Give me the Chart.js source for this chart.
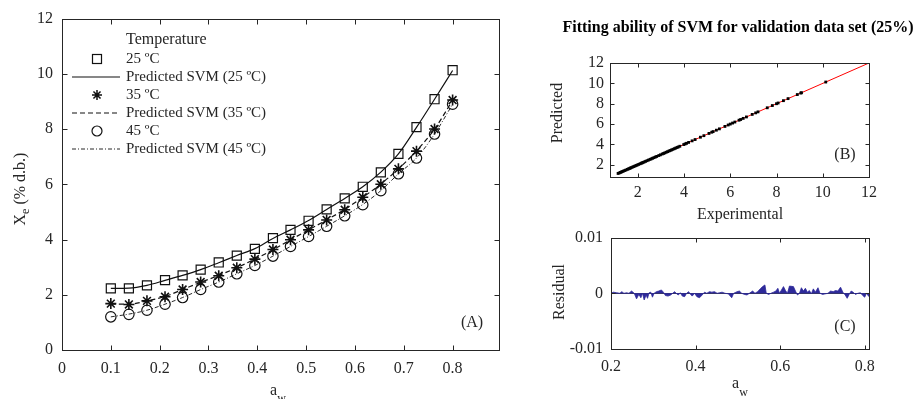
<!DOCTYPE html>
<html><head><meta charset="utf-8">
<script src="https://cdn.jsdelivr.net/npm/chart.js@4.4.0/dist/chart.umd.min.js"></script>
<style>
html,body{margin:0;padding:0;background:#fff;width:921px;height:399px;overflow:hidden;position:relative}
canvas{position:absolute}
</style></head><body>
<canvas id="ca" width="515" height="399" style="left:0;top:0"></canvas>
<canvas id="cb" width="421" height="232" style="left:500px;top:0"></canvas>
<canvas id="cc" width="421" height="179" style="left:500px;top:220px"></canvas>
<script>
// ---------- DATA ----------
// Panel A: equilibrium moisture content vs water activity
const aw = [0.100,0.137,0.174,0.211,0.247,0.284,0.321,0.358,0.395,0.432,0.468,0.505,0.542,0.579,0.616,0.653,0.689,0.726,0.763,0.800];
const exp25 = [2.23,2.23,2.34,2.53,2.70,2.91,3.17,3.42,3.66,4.05,4.35,4.68,5.09,5.49,5.91,6.43,7.10,8.07,9.08,10.13];
const exp35 = [1.68,1.65,1.78,1.93,2.19,2.46,2.69,2.98,3.29,3.64,3.99,4.35,4.71,5.08,5.53,6.00,6.56,7.20,8.00,9.05];
const exp45 = [1.20,1.29,1.44,1.66,1.90,2.19,2.46,2.76,3.06,3.40,3.75,4.11,4.48,4.86,5.26,5.77,6.38,6.95,7.82,8.90];
const pred25 = [2.23,2.24,2.34,2.52,2.70,2.91,3.16,3.42,3.67,4.04,4.35,4.69,5.09,5.49,5.91,6.44,7.10,8.06,9.08,10.12];
const pred35 = [1.66,1.66,1.78,1.94,2.19,2.45,2.70,2.98,3.29,3.63,3.99,4.35,4.71,5.09,5.53,6.01,6.56,7.21,8.00,9.04];
const pred45 = [1.20,1.30,1.44,1.66,1.90,2.19,2.46,2.76,3.06,3.40,3.75,4.11,4.48,4.86,5.27,5.77,6.38,6.95,7.82,8.90];
const xTicksA = [0,0.1,0.2,0.3,0.4,0.5,0.6,0.7,0.8];
const yTicksA = [0,2,4,6,8,10,12];
const legendLabels = ['25 ºC','Predicted SVM (25 ºC)','35 ºC','Predicted SVM (35 ºC)','45 ºC','Predicted SVM (45 ºC)'];

// Panel B: validation set, experimental vs predicted
const valExp = [1.15,1.20,1.25,1.29,1.33,1.38,1.44,1.49,1.55,1.60,1.65,1.68,1.72,1.78,1.83,1.88,1.93,1.98,2.04,2.10,2.15,2.19,2.23,2.28,2.34,2.40,2.46,2.53,2.58,2.64,2.70,2.76,2.82,2.91,2.98,3.06,3.12,3.17,3.23,3.29,3.35,3.40,3.46,3.52,3.58,3.64,3.70,3.75,3.82,3.99,4.05,4.11,4.20,4.35,4.48,4.71,4.86,5.08,5.20,5.26,5.40,5.53,5.77,5.91,6.00,6.10,6.20,6.38,6.45,6.56,6.70,6.95,7.10,7.20,7.60,7.82,8.00,8.07,8.30,8.50,8.90,9.05,9.08,10.13];
const valPred = valExp;
const fitX = [1.1, 12];
const fitY = [1.1, 12];
const ticksB = [2,4,6,8,10,12];

// Panel C: residuals vs water activity
const resX = [0.200,0.2055,0.2133,0.2212,0.2251,0.2306,0.2369,0.2424,0.2486,0.2549,0.2604,0.2659,0.2706,0.2745,0.2784,0.2831,0.2863,0.2902,0.2941,0.2980,0.3019,0.3074,0.3129,0.3192,0.3239,0.3286,0.3349,0.3411,0.3458,0.3505,0.3552,0.3592,0.3639,0.3686,0.3741,0.3788,0.3835,0.3882,0.3921,0.3976,0.4031,0.4093,0.4156,0.4211,0.4266,0.4329,0.4384,0.4446,0.4509,0.4564,0.4627,0.4697,0.4775,0.4854,0.4901,0.4956,0.4981,0.5036,0.5090,0.5153,0.5216,0.5271,0.5349,0.5404,0.5467,0.5529,0.5584,0.5639,0.5671,0.5726,0.5780,0.5843,0.5898,0.5945,0.5984,0.6031,0.6078,0.6125,0.6172,0.6219,0.6314,0.6361,0.6408,0.6455,0.6502,0.6549,0.6596,0.6643,0.6690,0.6737,0.6784,0.6831,0.6894,0.6941,0.7004,0.7066,0.7129,0.7192,0.7254,0.7309,0.7364,0.7427,0.7482,0.7537,0.7584,0.7631,0.7678,0.7725,0.7780,0.7835,0.7898,0.7952,0.7999,0.8038,0.810];
const resY = [0,0.0002,0.0001,0,0.0003,0,0.0001,0,0.0004,0,-0.0010,-0.0002,-0.0008,0,-0.0012,-0.0003,-0.0009,0.0001,0.0002,-0.0007,0,0.0003,0.0004,0.0006,0.0002,-0.0004,-0.0005,-0.0003,0,0.0003,-0.0001,-0.0003,0.0001,-0.0005,-0.0006,0,0.0003,-0.0002,-0.0005,0,-0.0006,-0.0008,-0.0003,0.0002,0,0.0003,0.0002,0.0003,0,0.0001,0.0002,0,-0.0001,-0.0008,0,0.0002,0.0003,0.0004,0,-0.0002,-0.0003,0,0.0004,0,0.0003,0.0008,0.0012,0.0015,0,-0.0002,0,0.0002,0.0004,0.0009,0,0.0006,0.0012,0.0005,0,0.0013,0.0012,0.0004,-0.0003,0,0.0010,0.0004,0.0009,0.0002,0.0005,-0.0001,0.0008,0.0002,0.0010,0,-0.0002,-0.0001,0,0.0004,0.0003,0.0005,0.0004,0.0011,0.0002,-0.0003,-0.0009,-0.0002,0.0004,0.0002,-0.0002,0,0.0001,-0.0004,-0.0007,0,-0.0006];
const xTicksC = [0.2,0.4,0.6,0.8];
const yTicksC = [-0.01,0,0.01];

// ---------- STYLE ----------
const SERIF = '"Liberation Serif","Times New Roman",serif';
const TXT = '#262626';
const AX = '#262626';
const xy = (xs, ys) => xs.map((x, i) => ({x, y: ys[i]}));

const boxPlugin = {
  id: 'mbox',
  afterDatasetsDraw(chart, args, opts) {
    const {ctx, chartArea: a, scales} = chart;
    const L = opts.len || 5;
    ctx.save();
    ctx.strokeStyle = AX; ctx.lineWidth = 1;
    const l = Math.round(a.left) + 0.5, t = Math.round(a.top) + 0.5, r = Math.round(a.right) + 0.5, b = Math.round(a.bottom) + 0.5;
    ctx.strokeRect(l, t, r - l, b - t);
    ctx.beginPath();
    scales.x.ticks.forEach(tk => {
      const p = Math.round(scales.x.getPixelForValue(tk.value)) + 0.5;
      if (p <= l + 1 || p >= r - 1) return;
      ctx.moveTo(p, b); ctx.lineTo(p, b - L);
      ctx.moveTo(p, t); ctx.lineTo(p, t + L);
    });
    scales.y.ticks.forEach(tk => {
      const p = Math.round(scales.y.getPixelForValue(tk.value)) + 0.5;
      if (p <= t + 1 || p >= b - 1) return;
      ctx.moveTo(l, p); ctx.lineTo(l + L, p);
      ctx.moveTo(r, p); ctx.lineTo(r - L, p);
    });
    ctx.stroke();
    ctx.restore();
  }
};

function textAt(ctx, s, x, y, size, opt = {}) {
  ctx.save();
  ctx.translate(x, y);
  if (opt.rot) ctx.rotate(opt.rot);
  ctx.font = (opt.bold ? 'bold ' : '') + size + 'px ' + SERIF;
  ctx.fillStyle = opt.color || TXT;
  ctx.textAlign = opt.align || 'center';
  ctx.textBaseline = 'middle';
  ctx.fillText(s, 0, 0);
  ctx.restore();
}
function partsAt(ctx, parts, x, y, rot) {
  ctx.save();
  ctx.translate(x, y);
  if (rot) ctx.rotate(rot);
  let w = 0;
  parts.forEach(p => { ctx.font = p.size + 'px ' + SERIF; p.w = ctx.measureText(p.t).width; w += p.w; });
  let cx = -w / 2;
  ctx.fillStyle = TXT; ctx.textAlign = 'left'; ctx.textBaseline = 'alphabetic';
  parts.forEach(p => { ctx.font = p.size + 'px ' + SERIF; ctx.fillText(p.t, cx, p.dy); cx += p.w; });
  ctx.restore();
}

function axisOpts(min, max, ticks, fmt, size, pad, fitProp, fitVal) {
  return {
    type: 'linear', min, max,
    afterBuildTicks: s => { s.ticks = ticks.map(v => ({value: v})); },
    afterFit: s => { s[fitProp] = fitVal; },
    grid: {display: false, drawTicks: false},
    border: {display: false},
    ticks: {color: TXT, font: {family: SERIF, size}, padding: pad, callback: fmt, autoSkip: false, maxRotation: 0}
  };
}
const baseOpts = {
  responsive: false, animation: false, events: [],
  plugins: {legend: {display: false}, tooltip: {enabled: false}}
};

// ---------- PANEL A ----------
const legendPlugin = {
  id: 'legA',
  afterDraw(chart) {
    const ctx = chart.ctx;
    ctx.save();
    textAt(ctx, 'Temperature', 126, 40, 16, {align: 'left'});
    const rows = [59, 77, 95, 113, 131, 149];
    const mx = 97, x0 = 72, x1 = 120;
    ctx.strokeStyle = '#111'; ctx.lineWidth = 1.2;
    ctx.strokeRect(mx - 4.5, rows[0] - 4.5, 9, 9);
    ctx.beginPath(); ctx.moveTo(x0, rows[1]); ctx.lineTo(x1, rows[1]); ctx.stroke();
    ctx.beginPath(); ctx.lineWidth = 1.5;
    for (let k = 0; k < 4; k++) { const ang = k * Math.PI / 4; const r = 5;
      ctx.moveTo(mx - r * Math.cos(ang), rows[2] - r * Math.sin(ang)); ctx.lineTo(mx + r * Math.cos(ang), rows[2] + r * Math.sin(ang)); }
    ctx.stroke();
    ctx.lineWidth = 1.2; ctx.setLineDash([5, 3]);
    ctx.beginPath(); ctx.moveTo(x0, rows[3]); ctx.lineTo(x1, rows[3]); ctx.stroke();
    ctx.setLineDash([]);
    ctx.beginPath(); ctx.arc(mx, rows[4], 5, 0, Math.PI * 2); ctx.stroke();
    ctx.lineWidth = 0.9; ctx.setLineDash([4, 2, 1, 2]);
    ctx.beginPath(); ctx.moveTo(x0, rows[5]); ctx.lineTo(x1, rows[5]); ctx.stroke();
    ctx.setLineDash([]);
    legendLabels.forEach((s, i) => textAt(ctx, s, 126, rows[i], 15, {align: 'left'}));
    partsAt(ctx, [{t: 'X', size: 16, dy: 0}, {t: 'e', size: 12, dy: 4}, {t: ' (% d.b.)', size: 16, dy: 0}], 25, 189, -Math.PI / 2);
    partsAt(ctx, [{t: 'a', size: 16, dy: 0}, {t: 'w', size: 12, dy: 7}], 278, 395, 0);
    textAt(ctx, '(A)', 472, 323, 16);
    ctx.restore();
  }
};
new Chart(document.getElementById('ca'), {
  type: 'scatter',
  data: {datasets: [
    {data: xy(aw, exp25), showLine: false, pointStyle: 'rect', pointRadius: 6.4, pointBorderWidth: 1.2, borderColor: '#111', backgroundColor: 'rgba(0,0,0,0)'},
    {data: xy(aw, pred25), showLine: true, pointRadius: 0, borderColor: '#111', borderWidth: 1.2, cubicInterpolationMode: 'monotone'},
    {data: xy(aw, exp35), showLine: false, pointStyle: 'star', pointRadius: 5.5, pointBorderWidth: 1.6, borderColor: '#111', backgroundColor: 'rgba(0,0,0,0)'},
    {data: xy(aw, pred35), showLine: true, pointRadius: 0, borderColor: '#111', borderWidth: 1.2, borderDash: [5, 3], cubicInterpolationMode: 'monotone'},
    {data: xy(aw, exp45), showLine: false, pointStyle: 'circle', pointRadius: 5.2, pointBorderWidth: 1.2, borderColor: '#111', backgroundColor: 'rgba(0,0,0,0)'},
    {data: xy(aw, pred45), showLine: true, pointRadius: 0, borderColor: '#111', borderWidth: 0.9, borderDash: [4, 2, 1, 2], cubicInterpolationMode: 'monotone'}
  ]},
  options: Object.assign({}, baseOpts, {
    layout: {padding: {left: 0, top: 17, right: 16, bottom: 0}},
    scales: {
      x: axisOpts(0, 0.895, xTicksA, v => v === 0 ? '0' : v.toFixed(1), 16, 9, 'height', 49),
      y: axisOpts(0, 12, yTicksA, v => String(v), 16, 9, 'width', 62)
    },
    plugins: Object.assign({}, baseOpts.plugins, {mbox: {len: 5}})
  }),
  plugins: [boxPlugin, legendPlugin]
});

// ---------- PANEL B ----------
const textB = {
  id: 'txtB',
  afterDraw(chart) {
    const ctx = chart.ctx;
    textAt(ctx, 'Fitting ability of SVM for validation data set (25%)', 238, 28, 16, {bold: true, color: '#000'});
    textAt(ctx, 'Predicted', 58, 113, 16, {rot: -Math.PI / 2});
    textAt(ctx, 'Experimental', 240, 215, 16);
    textAt(ctx, '(B)', 345, 155, 16);
  }
};
new Chart(document.getElementById('cb'), {
  type: 'scatter',
  data: {datasets: [
    {data: xy(valExp, valPred), showLine: false, pointStyle: 'rect', pointRadius: 2, pointBorderWidth: 0, backgroundColor: '#000', borderColor: '#000'},
    {data: xy(fitX, fitY), showLine: true, pointRadius: 0, borderColor: '#ff0000', borderWidth: 1}
  ]},
  options: Object.assign({}, baseOpts, {
    layout: {padding: {left: 0, top: 63, right: 52, bottom: 12}},
    scales: {
      x: axisOpts(0.8, 12, ticksB, v => String(v), 16, 6, 'height', 43),
      y: axisOpts(0.8, 12, ticksB, v => String(v), 16, 6, 'width', 110)
    },
    plugins: Object.assign({}, baseOpts.plugins, {mbox: {len: 4}})
  }),
  plugins: [boxPlugin, textB]
});

// ---------- PANEL C ----------
const textC = {
  id: 'txtC',
  beforeDatasetsDraw(chart) {
    const {ctx, chartArea: a, scales} = chart;
    ctx.save();
    const p = Math.round(scales.y.getPixelForValue(0)) + 0.5;
    ctx.strokeStyle = '#3a3a5a'; ctx.lineWidth = 1;
    ctx.beginPath(); ctx.moveTo(a.left, p); ctx.lineTo(a.right, p); ctx.stroke();
    ctx.restore();
  },
  afterDraw(chart) {
    const ctx = chart.ctx;
    textAt(ctx, 'Residual', 60, 72, 16, {rot: -Math.PI / 2});
    partsAt(ctx, [{t: 'a', size: 16, dy: 0}, {t: 'w', size: 12, dy: 8}], 240, 168, 0);
    textAt(ctx, '(C)', 345, 107, 16);
  }
};
new Chart(document.getElementById('cc'), {
  type: 'scatter',
  data: {datasets: [
    {data: xy(resX, resY), showLine: true, pointRadius: 0, borderColor: '#2e2a9a', borderWidth: 0.8, backgroundColor: '#2e2a9a', fill: 'origin'}
  ]},
  options: Object.assign({}, baseOpts, {
    layout: {padding: {left: 0, top: 15, right: 52, bottom: 0}},
    scales: {
      x: axisOpts(0.2, 0.81, xTicksC, v => v.toFixed(1), 16, 8, 'height', 50),
      y: axisOpts(-0.01, 0.01, yTicksC, v => v === 0 ? '0' : v.toFixed(2), 16, 8, 'width', 111)
    },
    plugins: Object.assign({}, baseOpts.plugins, {mbox: {len: 4}})
  }),
  plugins: [boxPlugin, textC]
});
</script>
</body></html>
